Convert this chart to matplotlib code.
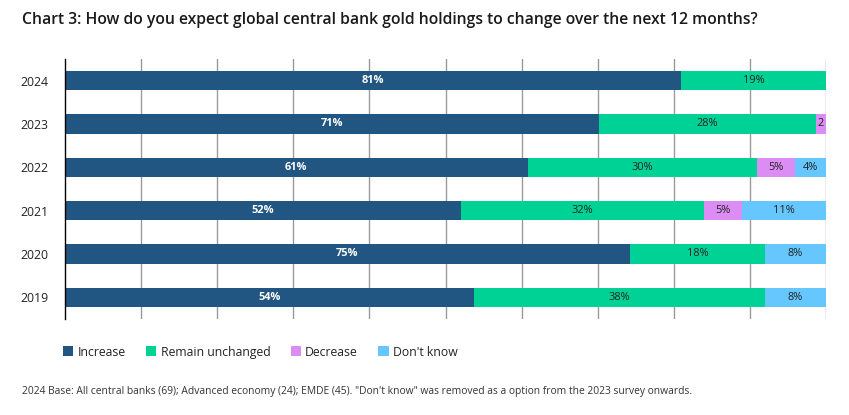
import matplotlib.pyplot as plt
import numpy as np

plt.rcParams['font.family'] = ['Open Sans', 'Noto Sans', 'DejaVu Sans']

years = ['2024', '2023', '2022', '2021', '2020', '2019']
series = ['Increase', 'Remain unchanged', 'Decrease', "Don't know"]
colors = ['#215682', '#00D195', '#DC8DF4', '#66C7FF']

# bar lengths (%)
increase = [81.0, 70.2, 60.8, 52.0, 74.2, 53.7]
unchanged = [19.0, 28.5, 30.1, 32.0, 17.8, 38.3]
decrease = [0.0, 1.3, 5.0, 5.0, 0.0, 0.0]
dont_know = [0.0, 0.0, 4.1, 11.0, 8.0, 8.0]

# labels as printed on the bars
increase_lbl = ['81%', '71%', '61%', '52%', '75%', '54%']
unchanged_lbl = ['19%', '28%', '30%', '32%', '18%', '38%']
decrease_lbl = ['', '2', '5%', '5%', '', '']
dont_know_lbl = ['', '', '4%', '11%', '8%', '8%']

values = [increase, unchanged, decrease, dont_know]
labels = [increase_lbl, unchanged_lbl, decrease_lbl, dont_know_lbl]
txt_colors = ['white', '#222222', '#222222', '#222222']
txt_weights = ['bold', 'normal', 'normal', 'normal']

fig = plt.figure(figsize=(8.49, 4.15), dpi=100)
ax = fig.add_axes([65 / 849, 1 - 319 / 415, 761 / 849, 260 / 415])

y = np.arange(len(years))
left = np.zeros(len(years))
for vals, lbls, name, c, tc, tw in zip(values, labels, series, colors, txt_colors, txt_weights):
    vals = np.array(vals)
    ax.barh(y, vals, left=left, height=0.45, color=c, label=name, zorder=2)
    for yi, (v, l, s) in enumerate(zip(vals, lbls, left)):
        if v > 0 and l:
            ax.text(s + v / 2, yi, l, ha='center', va='center', color=tc,
                    fontsize=7.9, fontweight=tw, zorder=3)
    left += vals

ax.set_xlim(0, 100)
ax.set_ylim(len(years) - 0.5, -0.5)
ax.set_yticks(y)
ax.set_yticklabels(years, fontsize=8.8, color='#222222')
ax.set_xticks(np.arange(10, 101, 10))
ax.xaxis.grid(True, color='#9a9a9a', linewidth=1, zorder=0)
ax.tick_params(axis='x', bottom=False, labelbottom=False)
ax.tick_params(axis='y', length=0, pad=12)
for sp in ['top', 'right', 'bottom']:
    ax.spines[sp].set_visible(False)
ax.spines['left'].set_color('black')
ax.spines['left'].set_linewidth(1)
ax.spines['left'].set_zorder(4)

fig.text(22 / 849, 1 - 20 / 415, 'Chart 3: How do you expect global central bank gold holdings to change over the next 12 months?',
         fontsize=11.3, fontweight='semibold', color='#1a1a1a', va='center', ha='left')

handles, hl = ax.get_legend_handles_labels()
fig.legend(handles, hl, loc='center left', bbox_to_anchor=(52 / 849, 1 - 352 / 415),
           ncol=4, frameon=False, fontsize=8.8, handlelength=0.85, handleheight=0.85,
           handletextpad=0.35, columnspacing=1.65, labelcolor='#222222')

fig.text(22 / 849, 1 - 391 / 415,
         '2024 Base: All central banks (69); Advanced economy (24); EMDE (45). "Don\'t know" was removed as a option from the 2023 survey onwards.',
         fontsize=7.35, color='#333333', va='center', ha='left')

fig.savefig('out.png', dpi=100)
